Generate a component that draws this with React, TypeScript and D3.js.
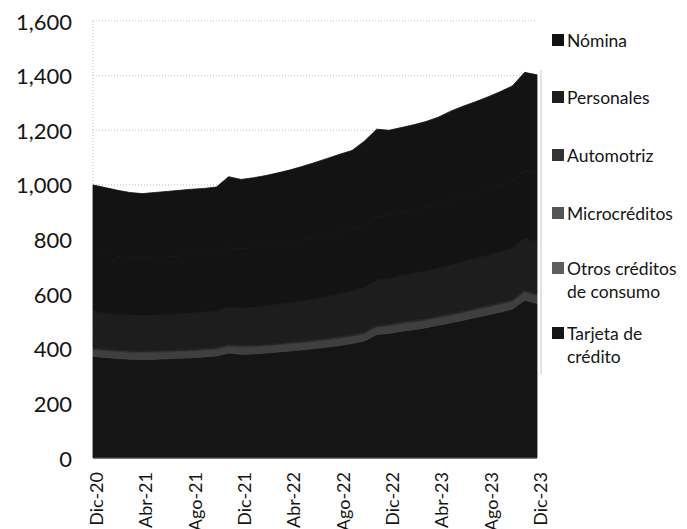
import React from "react";
import * as d3 from "d3";

const months = [
  "Dic-20","Ene-21","Feb-21","Mar-21","Abr-21","May-21","Jun-21","Jul-21","Ago-21","Sep-21","Oct-21","Nov-21",
  "Dic-21","Ene-22","Feb-22","Mar-22","Abr-22","May-22","Jun-22","Jul-22","Ago-22","Sep-22","Oct-22","Nov-22",
  "Dic-22","Ene-23","Feb-23","Mar-23","Abr-23","May-23","Jun-23","Jul-23","Ago-23","Sep-23","Oct-23","Nov-23","Dic-23",
];

const tickLabels = ["Dic-20","Abr-21","Ago-21","Dic-21","Abr-22","Ago-22","Dic-22","Abr-23","Ago-23","Dic-23"];
const yTicks = [0, 200, 400, 600, 800, 1000, 1200, 1400, 1600];

// stacked bottom -> top
const tarjeta = [372,368,364,362,361,362,363,365,367,370,373,384,380,381,384,388,392,396,401,406,412,419,428,452,456,464,470,477,486,495,504,514,524,534,545,578,566];
const otros = [26,26,26,26,26,26,26,26,26,26,26,27,27,27,27,27,27,27,27,27,27,27,27,28,28,28,28,28,28,28,29,29,29,29,29,30,30];
const micro = [5,5,5,5,5,5,5,5,5,5,5,5,5,5,5,5,5,5,5,6,6,6,6,6,6,6,6,6,6,6,6,6,6,6,6,6,6];
const automotriz = [133,132,131,130,130,130,131,132,133,134,135,137,138,139,141,143,145,148,151,154,157,160,163,166,168,170,172,174,176,178,180,182,184,186,188,190,191];
const personales = [215,214,213,212,211,211,211,212,212,213,214,217,217,218,219,220,221,222,223,224,225,226,227,230,230,231,232,233,234,236,238,240,242,244,246,250,250];
const nomina = [249,245,241,237,235,238,240,240,241,239,239,260,253,256,258,261,265,270,275,280,285,288,309,322,312,311,312,314,318,327,331,333,337,342,348,358,360];

const seriesKeys = ["tarjeta","otros","micro","automotriz","personales","nomina"];
const seriesColors: Record<string, string> = {
  tarjeta: "#151515",
  otros: "#3f3f3f",
  micro: "#2a2a2a",
  automotriz: "#1d1d1d",
  personales: "#131313",
  nomina: "#131313",
};

const legendItems = [
  { key: "nomina", lines: ["Nómina"], color: "#111111" },
  { key: "personales", lines: ["Personales"], color: "#1e1e1e" },
  { key: "automotriz", lines: ["Automotriz"], color: "#333333" },
  { key: "micro", lines: ["Microcréditos"], color: "#555555" },
  { key: "otros", lines: ["Otros créditos", "de consumo"], color: "#5e5e5e" },
  { key: "tarjeta", lines: ["Tarjeta de", "crédito"], color: "#161616" },
];

export default function App() {
  const W = 687, H = 529;
  const x = d3.scaleLinear().domain([0, months.length - 1]).range([93, 537]);
  const y = d3.scaleLinear().domain([0, 1600]).range([458, 21]);

  const rows = months.map((m, i) => ({
    i,
    tarjeta: tarjeta[i],
    otros: otros[i],
    micro: micro[i],
    automotriz: automotriz[i],
    personales: personales[i],
    nomina: nomina[i],
  }));
  const stacked = d3.stack<any>().keys(seriesKeys)(rows);
  const area = d3
    .area<any>()
    .x((d) => x(d.data.i))
    .y0((d) => y(d[0]))
    .y1((d) => y(d[1]));

  const font = "Lato, 'Open Sans', sans-serif";
  const legendY = [40, 97, 155, 213, 268, 333];

  return (
    <svg width={W} height={H} style={{ position: "absolute", left: 0, top: 0, background: "#fff" }} fontFamily={font}>
      <rect x={0} y={0} width={W} height={H} fill="#ffffff" />
      {yTicks.filter((t) => t > 0).map((t) => (
        <line key={t} x1={93} x2={537} y1={y(t)} y2={y(t)} stroke="#bdbdbd" strokeWidth={1} strokeDasharray="1,2" />
      ))}
      <line x1={93} x2={93} y1={21} y2={458} stroke="#bdbdbd" strokeDasharray="1,2" />
      <line x1={541} x2={541} y1={70} y2={375} stroke="#c8c8c8" />
      {stacked.map((s) => (
        <path
          key={s.key}
          d={area(s) || ""}
          fill={seriesColors[s.key]}
          stroke={seriesColors[s.key]}
          strokeWidth={0.8}
          strokeLinejoin="round"
        />
      ))}
      <line x1={93} x2={537} y1={458} y2={458} stroke="#555" strokeWidth={1} />
      {yTicks.map((t) => (
        <text key={t} x={72} y={y(t)} textAnchor="end" dominantBaseline="central" fontSize={22} fill="#151515">
          {d3.format(",")(t)}
        </text>
      ))}
      {months.map((m, i) =>
        tickLabels.includes(m) ? (
          <text
            key={m}
            transform={`translate(${x(i) + 3},${472}) rotate(-90)`}
            textAnchor="end"
            dominantBaseline="central"
            fontSize={18}
            fill="#151515"
          >
            {m}
          </text>
        ) : null
      )}
      {legendItems.map((it, k) => (
        <g key={it.key}>
          <rect x={552} y={legendY[k] - 6} width={12} height={12} fill={it.color} />
          {it.lines.map((ln, j) => (
            <text key={j} x={567} y={legendY[k] + j * 23} dominantBaseline="central" fontSize={17.5} fill="#151515">
              {ln}
            </text>
          ))}
        </g>
      ))}
    </svg>
  );
}
